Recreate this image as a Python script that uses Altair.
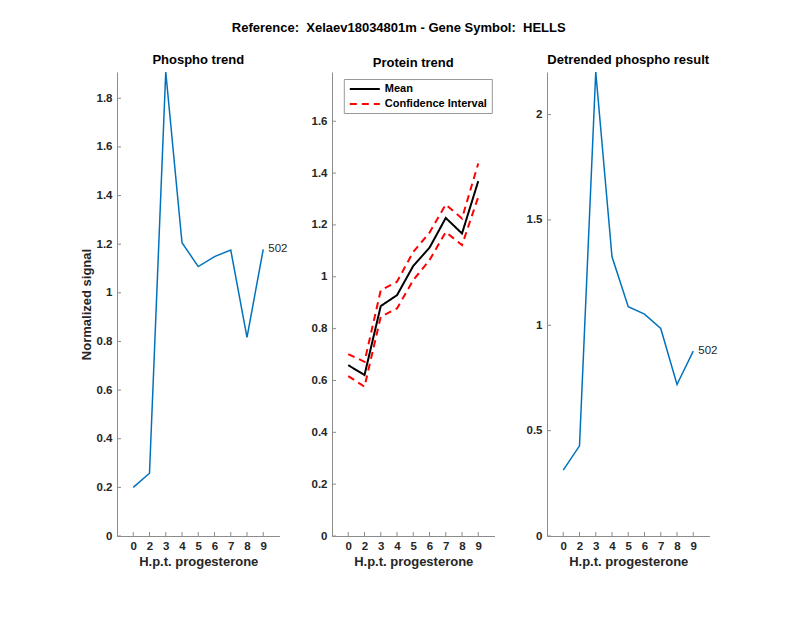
import altair as alt
import pandas as pd

# ---------------- data ----------------
hpt = ["0", "2", "3", "4", "5", "6", "7", "8", "9"]
phospho = [0.200, 0.258, 1.908, 1.206, 1.108, 1.149, 1.176, 0.817, 1.179]
protein_mean = [0.659, 0.621, 0.887, 0.929, 1.042, 1.112, 1.227, 1.167, 1.369]
protein_upper = [0.702, 0.672, 0.948, 0.981, 1.096, 1.170, 1.279, 1.225, 1.437]
protein_lower = [0.617, 0.576, 0.846, 0.878, 0.987, 1.064, 1.173, 1.122, 1.308]
detrended = [0.313, 0.428, 2.202, 1.325, 1.088, 1.053, 0.985, 0.719, 0.877]
peptide_label = "502"

phospho_ticks = [0, 0.2, 0.4, 0.6, 0.8, 1, 1.2, 1.4, 1.6, 1.8]
protein_ticks = [0, 0.2, 0.4, 0.6, 0.8, 1, 1.2, 1.4, 1.6]
detrended_ticks = [0, 0.5, 1, 1.5, 2]

phospho_domain = [0, 1.908]
protein_domain = [0, 1.79]
detrended_domain = [0, 2.202]

suptitle = "Reference:\u00a0 Xelaev18034801m - Gene Symbol:\u00a0 HELLS"
x_title = "H.p.t. progesterone"

# ---------------- style ----------------
FONT = "Liberation Sans"
AX = "#8c8c8c"
TXT = "#262626"
BLUE = "#0072BD"
W, H = 162.5, 464
SPACING = 52


def x_enc():
    axis = alt.Axis(title=x_title, labelAngle=0, ticks=False, grid=False,
                    domainColor=AX, domainWidth=1, labelColor=TXT,
                    labelFontSize=11.5, labelFontWeight="bold", labelPadding=4,
                    titlePadding=4, titleFontSize=13, titleFontWeight="bold",
                    titleColor=TXT, labelFont=FONT, titleFont=FONT)
    return alt.X("hpt:N", sort=hpt, scale=alt.Scale(type="point", padding=1), axis=axis)


def y_enc(field, domain, ticks, title):
    axis = alt.Axis(title=title, values=ticks, format="~g", ticks=False, grid=False,
                    domainColor=AX, domainWidth=1, labelColor=TXT,
                    labelFontSize=11.5, labelFontWeight="bold", labelPadding=5,
                    titlePadding=3, titleFontSize=13, titleFontWeight="bold",
                    titleColor=TXT, labelFont=FONT, titleFont=FONT)
    return alt.Y(field, scale=alt.Scale(domain=domain, nice=False, zero=False), axis=axis)


def tick_layers(domain, ticks, ytitle):
    xt = alt.Chart(pd.DataFrame({"hpt": hpt})).mark_rule(color=AX, strokeWidth=1).encode(
        x=x_enc(), y=alt.value(H), y2=alt.value(H - 4))
    yt = alt.Chart(pd.DataFrame({"v": ticks})).mark_rule(color=AX, strokeWidth=1).encode(
        x=alt.value(0), x2=alt.value(4), y=y_enc("v:Q", domain, ticks, ytitle))
    return [xt, yt]


def signal_panel(values, domain, ticks, title, ytitle):
    df = pd.DataFrame({"hpt": hpt, "value": values,
                       "label": [""] * (len(hpt) - 1) + [peptide_label]})
    line = alt.Chart(df).mark_line(color=BLUE, strokeWidth=1.5).encode(
        x=x_enc(), y=y_enc("value:Q", domain, ticks, ytitle))
    lab = alt.Chart(df.tail(1)).mark_text(align="left", baseline="middle", dx=5,
                                          fontSize=11.5, color=TXT, font=FONT).encode(
        x=x_enc(), y=y_enc("value:Q", domain, ticks, ytitle), text="label:N")
    return alt.layer(line, lab, *tick_layers(domain, ticks, ytitle)).properties(
        width=W, height=H, title=alt.TitleParams(title, offset=2))


p1 = signal_panel(phospho, phospho_domain, phospho_ticks, "Phospho trend", "Normalized signal")
p3 = signal_panel(detrended, detrended_domain, detrended_ticks, "Detrended phospho result", "")

# protein panel
rows = []
for series, bound, vals in [("Confidence Interval", "upper", protein_upper),
                            ("Confidence Interval", "lower", protein_lower),
                            ("Mean", "mean", protein_mean)]:
    for h, v in zip(hpt, vals):
        rows.append({"hpt": h, "value": v, "series": series, "bound": bound})
pdf = pd.DataFrame(rows)

leg = alt.Legend(title=None, orient="none", legendX=W + SPACING + 12.3, legendY=7,
                 symbolType="M-5,0H1", symbolSize=100, symbolStrokeWidth=2,
                 symbolOffset=21, labelOffset=4,
                 labelFontSize=11, labelFontWeight="bold", labelColor="#000",
                 labelFont=FONT, strokeColor="#999", fillColor="white",
                 padding=4, rowPadding=4)
series_dom = ["Mean", "Confidence Interval"]
prot_line = alt.Chart(pdf).mark_line(strokeWidth=2).encode(
    x=x_enc(), y=y_enc("value:Q", protein_domain, protein_ticks, ""),
    color=alt.Color("series:N", scale=alt.Scale(domain=series_dom, range=["#000000", "#ff0000"]), legend=leg),
    strokeDash=alt.StrokeDash("series:N", scale=alt.Scale(domain=series_dom, range=[[1, 0], [7, 5]]), legend=leg),
    detail="bound:N")
p2 = alt.layer(prot_line, *tick_layers(protein_domain, protein_ticks, "")).properties(
    width=W, height=H, title=alt.TitleParams("Protein trend", offset=2))

chart = alt.hconcat(p1, p2, p3, spacing=SPACING, bounds="flush").properties(
    padding={"left": 72, "top": 14, "right": 10, "bottom": 10},
    title=alt.TitleParams(suptitle, anchor="middle", offset=19, fontSize=13),
).configure(font=FONT).configure_view(stroke=None).configure_title(
    fontSize=13, fontWeight="bold", color="#000", font=FONT)

chart.save("out.html", embed_options={"renderer": "svg", "actions": False})
